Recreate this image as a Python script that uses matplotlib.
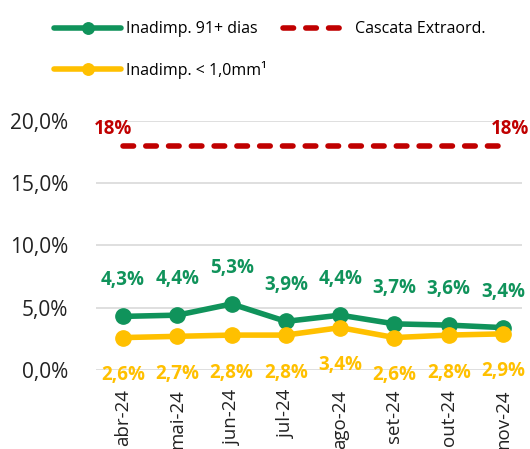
import matplotlib.pyplot as plt
import numpy as np

meses = ["abr-24", "mai-24", "jun-24", "jul-24", "ago-24", "set-24", "out-24", "nov-24"]
inad_91 = [4.3, 4.4, 5.3, 3.9, 4.4, 3.7, 3.6, 3.4]
inad_1mm = [2.6, 2.7, 2.8, 2.8, 3.4, 2.6, 2.8, 2.9]
cascata = [18, 18, 18, 18, 18, 18, 18, 18]

verde = "#10935B"
amarelo = "#FFC000"
vermelho = "#C00000"

plt.rcParams['font.family'] = ['Open Sans', 'DejaVu Sans']

fig = plt.figure(figsize=(5.3, 4.49), dpi=100)
ax = fig.add_axes([0.181, 0.176, 0.804, 0.555])
x = np.arange(len(meses))

l1, = ax.plot(x, inad_91, color=verde, lw=4, marker="o", ms=11, label="Inadimp. 91+ dias", solid_capstyle="round")
l2, = ax.plot(x, inad_1mm, color=amarelo, lw=4, marker="o", ms=11, label="Inadimp. < 1,0mm¹", solid_capstyle="round")
l3, = ax.plot(x, cascata, color=vermelho, lw=4, ls=(0, (1.9, 2.2)), dash_capstyle="round", label="Cascata Extraord.")

for i, v in enumerate(inad_91):
    ax.annotate(f"{v:.1f}%".replace(".", ","), (x[i], v), xytext=(0, 26), textcoords="offset points",
                ha="center", va="center", color=verde, fontsize=13.5, fontweight="bold")
for i, v in enumerate(inad_1mm):
    ax.annotate(f"{v:.1f}%".replace(".", ","), (x[i], v), xytext=(0, -27), textcoords="offset points",
                ha="center", va="center", color=amarelo, fontsize=13.5, fontweight="bold", annotation_clip=False)
ax.annotate(f"{cascata[0]}%", (x[0], cascata[0]), xytext=(-7, 12), textcoords="offset points",
            ha="center", va="center", color=vermelho, fontsize=13.5, fontweight="bold")
ax.annotate(f"{cascata[-1]}%", (x[-1], cascata[-1]), xytext=(5, 12), textcoords="offset points",
            ha="center", va="center", color=vermelho, fontsize=13.5, fontweight="bold", annotation_clip=False)

ax.set_ylim(0, 20)
ax.set_xlim(-0.5, 7.35)
ax.set_yticks([0, 5, 10, 15, 20])
ax.set_yticklabels(["0,0%", "5,0%", "10,0%", "15,0%", "20,0%"], fontsize=15, color="#222222")
ax.set_xticks(x)
ax.set_xticklabels(meses, rotation=90, fontsize=13.5, color="#222222")
ax.tick_params(axis="x", length=0, pad=14)
ax.tick_params(axis="y", length=0, pad=20)
ax.grid(axis="y", color="#D9D9D9", lw=1.2)
ax.set_axisbelow(True)
for s in ax.spines.values():
    s.set_visible(False)

fig.legend(handles=[l1, l2, l3], loc="upper left", bbox_to_anchor=(0.075, 0.985), ncol=2,
           frameon=False, fontsize=11.5, handlelength=4.2, handletextpad=0.3,
           columnspacing=1.0, labelspacing=1.5, markerscale=0.75)

fig.savefig("out.png", dpi=100)
